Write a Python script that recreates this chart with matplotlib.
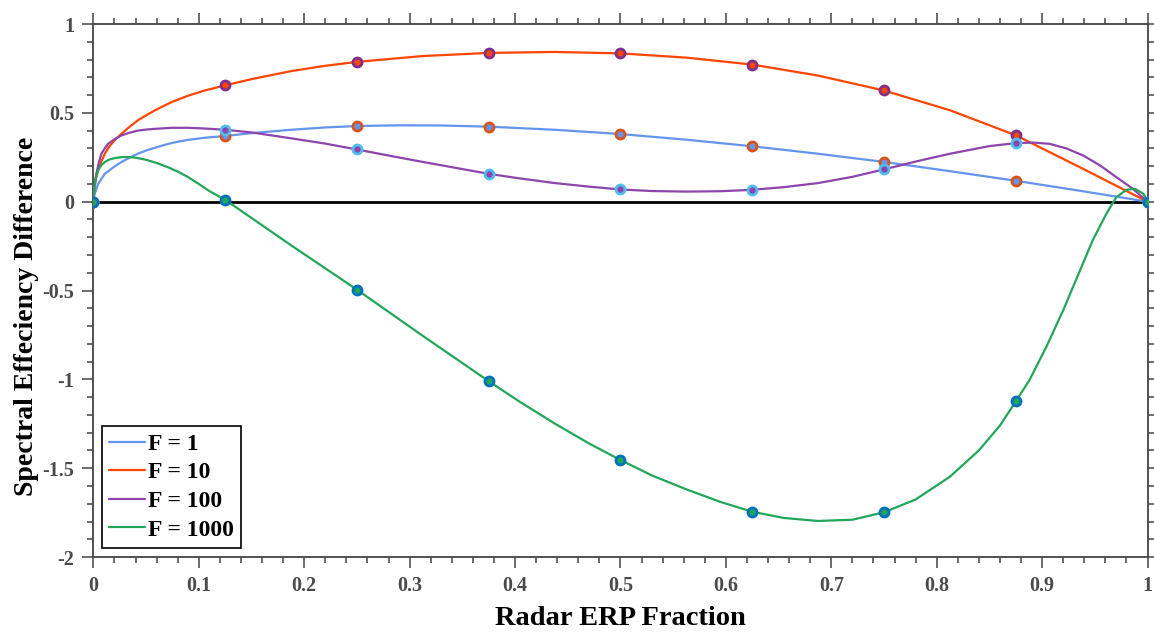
import matplotlib
matplotlib.use("Agg")
import matplotlib.pyplot as plt
from matplotlib.ticker import MultipleLocator

# ---- data ----
x1 = [0, 0.0013, 0.0045, 0.0108, 0.02, 0.0266, 0.035, 0.042, 0.05, 0.058, 0.066, 0.074,
      0.082, 0.09, 0.1056, 0.125, 0.15, 0.1875, 0.22, 0.25, 0.29, 0.33, 0.375, 0.4375,
      0.5, 0.5625, 0.625, 0.6875, 0.75, 0.8125, 0.875, 0.9375, 1.0]
f1 = [0, 0.045, 0.10, 0.157, 0.198, 0.223, 0.25, 0.27, 0.288, 0.303, 0.317, 0.33,
      0.34, 0.348, 0.36, 0.37, 0.386, 0.405, 0.418, 0.426, 0.43, 0.429, 0.4225, 0.405,
      0.381, 0.349, 0.312, 0.27, 0.224, 0.172, 0.118, 0.06, 0]

x10 = [0, 0.001, 0.0025, 0.0045, 0.0075, 0.0108, 0.015, 0.02, 0.0266, 0.034, 0.042, 0.05,
       0.058, 0.066, 0.074, 0.082, 0.09, 0.1056, 0.125, 0.15, 0.1875, 0.22, 0.25, 0.3125,
       0.375, 0.4375, 0.5, 0.5625, 0.625, 0.6875, 0.75, 0.8125, 0.875, 0.9375, 1.0]
f10 = [0, 0.08, 0.13, 0.176, 0.225, 0.27, 0.31, 0.345, 0.382, 0.42, 0.457, 0.486,
       0.513, 0.537, 0.56, 0.579, 0.597, 0.626, 0.655, 0.69, 0.735, 0.765, 0.787, 0.82,
       0.8375, 0.843, 0.835, 0.811, 0.772, 0.71, 0.626, 0.515, 0.374, 0.189, 0]

x100 = [0, 0.001, 0.0028, 0.005, 0.0076, 0.0108, 0.014, 0.02, 0.0266, 0.034, 0.042, 0.05,
        0.058, 0.074, 0.09, 0.1056, 0.125, 0.15, 0.1875, 0.22, 0.25, 0.28, 0.3125, 0.375,
        0.4, 0.4375, 0.47, 0.5, 0.53, 0.5625, 0.595, 0.625, 0.655, 0.6875, 0.72, 0.75,
        0.78, 0.8125, 0.85, 0.875, 0.891, 0.907, 0.923, 0.939, 0.955, 0.9705, 0.986, 1.0]
f100 = [0, 0.09, 0.157, 0.215, 0.27, 0.30, 0.326, 0.352, 0.373, 0.388, 0.40, 0.406,
        0.41, 0.416, 0.416, 0.412, 0.405, 0.39, 0.357, 0.327, 0.294, 0.26, 0.224, 0.157,
        0.135, 0.105, 0.085, 0.069, 0.06, 0.057, 0.059, 0.067, 0.082, 0.105, 0.14, 0.182,
        0.226, 0.27, 0.313, 0.33, 0.333, 0.326, 0.30, 0.26, 0.204, 0.138, 0.073, 0]

x1000 = [0, 0.001, 0.0025, 0.0045, 0.0075, 0.0108, 0.015, 0.02, 0.0266, 0.033, 0.04, 0.05,
         0.06, 0.07, 0.08, 0.09, 0.1, 0.11, 0.125, 0.1875, 0.25, 0.3125, 0.375, 0.405,
         0.4375, 0.47, 0.5, 0.53, 0.5625, 0.595, 0.625, 0.655, 0.6875, 0.72, 0.75, 0.78,
         0.8125, 0.84, 0.86, 0.875, 0.888, 0.904, 0.92, 0.936, 0.948, 0.961, 0.9705, 0.98,
         0.988, 0.996, 1.0]
f1000 = [0, 0.08, 0.14, 0.176, 0.205, 0.223, 0.237, 0.245, 0.251, 0.252, 0.248, 0.236,
         0.218, 0.196, 0.17, 0.138, 0.10, 0.06, 0.011, -0.245, -0.495, -0.755, -1.01, -1.128,
         -1.248, -1.36, -1.454, -1.541, -1.619, -1.69, -1.745, -1.78, -1.797, -1.79, -1.748, -1.676,
         -1.548, -1.40, -1.26, -1.124, -1.004, -0.817, -0.611, -0.386, -0.217, -0.067, 0.026, 0.067,
         0.073, 0.045, 0]

mx = [0, 0.125, 0.25, 0.375, 0.5, 0.625, 0.75, 0.875, 1.0]
m1 = [0, 0.370, 0.426, 0.4225, 0.381, 0.312, 0.224, 0.118, 0]
m10 = [0, 0.655, 0.787, 0.8375, 0.835, 0.772, 0.626, 0.374, 0]
m100 = [0, 0.405, 0.294, 0.157, 0.069, 0.067, 0.182, 0.33, 0]
m1000 = [0, 0.011, -0.495, -1.01, -1.454, -1.746, -1.748, -1.124, 0]

labels = ["F = 1", "F = 10", "F = 100", "F = 1000"]
line_colors = ["#6495ED", "#FF4500", "#8E44AD", "#22A65A"]
edge_colors = ["#D95319", "#7E2F8E", "#4DBEEE", "#0072BD"]

plt.rcParams['font.family'] = ['Liberation Serif', 'DejaVu Serif']
plt.rcParams['font.weight'] = 'bold'

fig = plt.figure(figsize=(11.54, 6.33), dpi=100)
ax = fig.add_axes([0.0809, 0.120, 0.9135, 0.842])

ax.axhline(0, color="black", lw=2.0, zorder=2)

xs = [x1, x10, x100, x1000]
series = [f1, f10, f100, f1000]
marks = [m1, m10, m100, m1000]
for xx, ys, lab, lc in zip(xs, series, labels, line_colors):
    ax.plot(xx, ys, color=lc, lw=1.6, label=lab, zorder=3,
            solid_joinstyle='round', solid_capstyle='round')
for ms, lc, ec in zip(marks, line_colors, edge_colors):
    ax.plot(mx, ms, ls='none', marker='o', markersize=6.5, markerfacecolor=lc,
            markeredgecolor=ec, markeredgewidth=2.0, zorder=4)

ax.set_xlim(0, 1)
ax.set_ylim(-2, 1)
ax.xaxis.set_minor_locator(MultipleLocator(0.02))
ax.yaxis.set_minor_locator(MultipleLocator(0.1))
ax.set_xticks([i / 10 for i in range(11)])
ax.set_xticklabels(["0", "0.1", "0.2", "0.3", "0.4", "0.5", "0.6", "0.7", "0.8", "0.9", "1"])
ax.set_yticks([-2, -1.5, -1, -0.5, 0, 0.5, 1])
ax.set_yticklabels(["-2", "-1.5", "-1", "-0.5", "0", "0.5", "1"])

axis_col = "#444444"
for s in ax.spines.values():
    s.set_color(axis_col)
    s.set_linewidth(1.3)
ax.tick_params(which='both', direction='out', top=True, right=True,
               color=axis_col, width=1.1)
ax.tick_params(which='major', length=8, labelsize=14.5, labelcolor="#4a4a4a", pad=6)
ax.tick_params(which='minor', length=4.5)
for t in ax.get_xticklabels() + ax.get_yticklabels():
    t.set_fontweight('bold')

ax.set_xlabel("Radar ERP Fraction", fontsize=20.5, fontweight='bold', color='black', labelpad=7)
ax.set_ylabel("Spectral Effeciency Difference", fontsize=20, fontweight='bold', color='black')
ax.yaxis.set_label_coords(-0.0515, 0.452)

leg = ax.legend(loc='lower left', bbox_to_anchor=(0.0085, 0.0175), borderaxespad=0,
                fancybox=False, edgecolor='black', framealpha=1,
                prop={'family': ['Liberation Serif'], 'weight': 'bold', 'size': 17},
                handlelength=1.5, handletextpad=0.15, labelspacing=0.3,
                borderpad=0.3)
leg.get_frame().set_linewidth(1.2)

fig.savefig("out.png", dpi=100)
